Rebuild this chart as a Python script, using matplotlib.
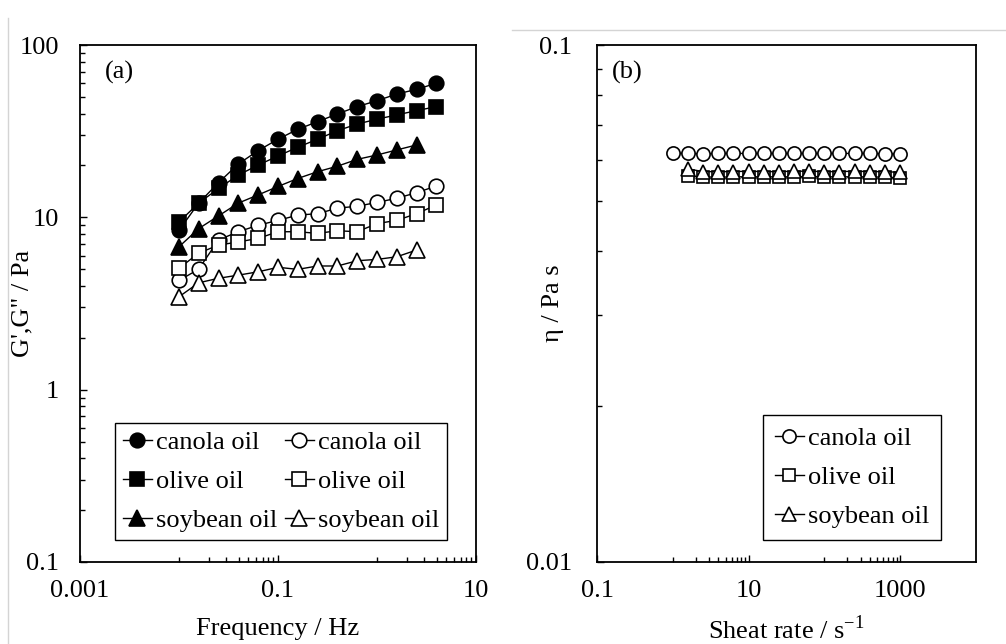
import matplotlib
matplotlib.use("Agg")
import matplotlib.pyplot as plt
from matplotlib.ticker import FixedLocator, NullFormatter, FixedFormatter
from matplotlib.lines import Line2D

plt.rcParams['font.family'] = ['Liberation Serif', 'DejaVu Serif']
plt.rcParams['mathtext.fontset'] = 'custom'
plt.rcParams['mathtext.rm'] = 'Liberation Serif'

###################################################
# DATA
###################################################

# (a) frequency sweep
freq = [0.01, 0.0158, 0.0251, 0.0398, 0.0631, 0.1, 0.158, 0.251,
        0.398, 0.631, 1.0, 1.58, 2.51, 3.98]
canola_g1 = [8.4, 12.1, 15.9, 20.4, 24.4, 28.4, 32.4, 35.9, 39.8, 43.9, 47.5, 51.9, 55.3, 60.0]
olive_g1 = [9.4, 12.1, 14.7, 17.6, 20.1, 22.7, 25.5, 28.4, 31.8, 34.8, 37.1, 39.3, 41.6, 43.9]
soybean_g1 = [6.75, 8.6, 10.2, 12.1, 13.5, 15.1, 16.8, 18.4, 19.8, 21.7, 23.0, 24.6, 26.3]
canola_g2 = [4.3, 5.0, 7.4, 8.25, 9.0, 9.6, 10.3, 10.5, 11.3, 11.6, 12.2, 12.9, 13.9, 15.2]
olive_g2 = [5.06, 6.2, 6.9, 7.2, 7.55, 8.25, 8.25, 8.07, 8.36, 8.25, 9.2, 9.6, 10.5, 11.8]
soybean_g2 = [3.46, 4.17, 4.43, 4.62, 4.83, 5.13, 4.99, 5.22, 5.22, 5.6, 5.7, 5.9, 6.46]

# (b) flow curve
shear = [1.0, 1.58, 2.51, 3.98, 6.31, 10, 15.8, 25.1, 39.8, 63.1,
         100, 158, 251, 398, 631, 1000]
canola_eta = [0.0618, 0.0617, 0.0616, 0.0617, 0.0617, 0.0617, 0.0617, 0.0617,
              0.0617, 0.0617, 0.0617, 0.0617, 0.0617, 0.0617, 0.0616, 0.0615]
olive_eta = [0.0557, 0.0556, 0.0555, 0.0556, 0.0556, 0.0556, 0.0556, 0.0556,
             0.0557, 0.0556, 0.0556, 0.0556, 0.0556, 0.0555, 0.0554]
soybean_eta = [0.0576, 0.0569, 0.0569, 0.0569, 0.0570, 0.0569, 0.0569, 0.0570,
               0.0570, 0.0569, 0.0569, 0.0570, 0.0569, 0.0569, 0.0567]

###################################################
# FIGURE
###################################################

FS = 19
fig = plt.figure(figsize=(10.06, 6.44), dpi=100)
axa = fig.add_axes([80/1006, 82/644, 396/1006, 517/644])
axb = fig.add_axes([597/1006, 82/644, 379/1006, 517/644])

line_kw = dict(color='black', lw=1.0, mew=1.2, mec='black')

axa.plot(freq, canola_g1, marker='o', ms=10.5, mfc='black', label='canola oil', **line_kw)
axa.plot(freq, olive_g1, marker='s', ms=10, mfc='black', label='olive oil', **line_kw)
axa.plot(freq[:len(soybean_g1)], soybean_g1, marker='^', ms=11, mfc='black', label='soybean oil', **line_kw)
axa.plot(freq, canola_g2, marker='o', ms=10.5, mfc='white', label='canola oil', **line_kw)
axa.plot(freq, olive_g2, marker='s', ms=10, mfc='white', label='olive oil', **line_kw)
axa.plot(freq[:len(soybean_g2)], soybean_g2, marker='^', ms=11, mfc='white', label='soybean oil', **line_kw)

axb.plot(shear, canola_eta, marker='o', ms=9.5, mfc='white', label='canola oil', **line_kw)
axb.plot(shear[1:], olive_eta, marker='s', ms=8.5, mfc='white', label='olive oil', **line_kw)
axb.plot(shear[1:], soybean_eta, marker='^', ms=10, mfc='white', label='soybean oil', **line_kw)

for ax in (axa, axb):
    ax.set_xscale('log')
    ax.set_yscale('log')
    for s in ax.spines.values():
        s.set_linewidth(1.3)
    ax.tick_params(which='both', direction='in', labelsize=FS, width=1.0)
    ax.tick_params(which='major', length=5)
    ax.tick_params(which='minor', length=3.5)
    ax.tick_params(axis='x', which='both', pad=13)
    ax.xaxis.set_minor_formatter(NullFormatter())
    ax.yaxis.set_minor_formatter(NullFormatter())

axa.tick_params(axis='y', which='both', pad=15)
axb.tick_params(axis='y', which='both', pad=18)

# (a) axes
axa.set_xlim(0.001, 10)
axa.set_ylim(0.1, 100)
axa.xaxis.set_major_locator(FixedLocator([0.001, 0.1, 10]))
axa.xaxis.set_major_formatter(FixedFormatter(['0.001', '0.1', '10']))
axa.xaxis.set_minor_locator(FixedLocator([0.01 * k for k in range(1, 10)] + list(range(1, 10))))
axa.yaxis.set_major_locator(FixedLocator([0.1, 1, 10, 100]))
axa.yaxis.set_major_formatter(FixedFormatter(['0.1', '1', '10', '100']))
axa.yaxis.set_minor_locator(FixedLocator([d * k for d in (0.1, 1, 10) for k in range(2, 10)]))
axa.set_xlabel('Frequency / Hz', fontsize=FS)
axa.set_ylabel('G\',G" / Pa', fontsize=FS)
axa.xaxis.set_label_coords(0.5, -0.108)
axa.yaxis.set_label_coords(-0.118, 0.5)
axa.text(25/396, 1 - 27/517, '(a)', transform=axa.transAxes, fontsize=FS, va='center', ha='left')

h, l = axa.get_legend_handles_labels()
axa.legend(h, l, ncol=2, loc='lower left', bbox_to_anchor=(0.088, 0.043), borderaxespad=0,
           fontsize=FS, frameon=True, fancybox=False, edgecolor='black', framealpha=1,
           handlelength=1.1, handletextpad=0.15, columnspacing=0.3, labelspacing=0.58,
           borderpad=0.3).get_frame().set_linewidth(1.0)

# (b) axes
axb.set_xlim(0.1, 10000)
axb.set_ylim(0.01, 0.1)
axb.xaxis.set_major_locator(FixedLocator([0.1, 10, 1000]))
axb.xaxis.set_major_formatter(FixedFormatter(['0.1', '10', '1000']))
axb.xaxis.set_minor_locator(FixedLocator(list(range(1, 10)) + [100 * k for k in range(1, 10)]))
axb.yaxis.set_major_locator(FixedLocator([0.01, 0.1]))
axb.yaxis.set_major_formatter(FixedFormatter(['0.01', '0.1']))
axb.yaxis.set_minor_locator(FixedLocator([0.01 * k for k in range(2, 10)]))
axb.set_xlabel('Sheat rate / s$^{\\mathregular{-1}}$', fontsize=FS)
axb.set_ylabel('\u03b7 / Pa s', fontsize=FS)
axb.xaxis.set_label_coords(0.5, -0.104)
axb.yaxis.set_label_coords(-0.088, 0.5)
axb.text(15/379, 1 - 27/517, '(b)', transform=axb.transAxes, fontsize=FS, va='center', ha='left')

axb.legend(loc='lower left', bbox_to_anchor=(0.438, 0.043), borderaxespad=0,
           fontsize=FS, frameon=True, fancybox=False, edgecolor='black', framealpha=1,
           handlelength=1.1, handletextpad=0.15, labelspacing=0.58,
           borderpad=0.45).get_frame().set_linewidth(1.0)

# screenshot edges
fig.add_artist(Line2D([8/1006, 8/1006], [0, 1 - 18/644], color='#d4d4d4', lw=1, transform=fig.transFigure))
fig.add_artist(Line2D([512/1006, 1], [1 - 30/644, 1 - 30/644], color='#d4d4d4', lw=1, transform=fig.transFigure))

plt.savefig('out.png', dpi=100)
plt.close()
